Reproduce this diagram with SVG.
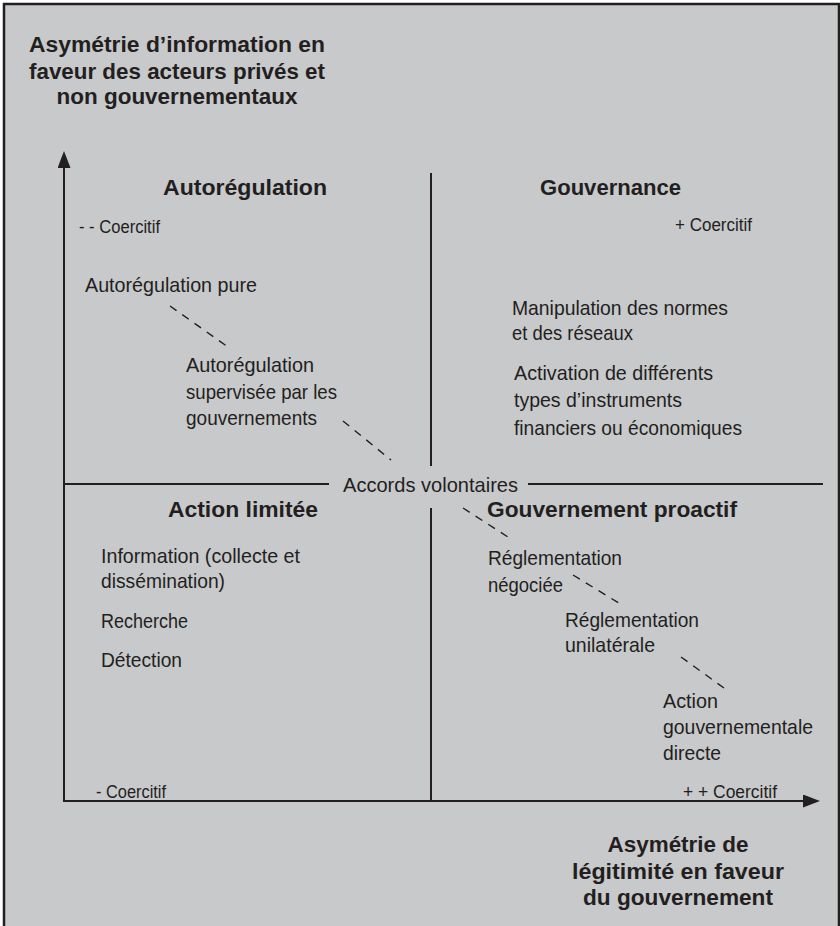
<svg xmlns="http://www.w3.org/2000/svg" width="840" height="926" viewBox="0 0 840 926">
<style>
text{font-family:"Liberation Sans",Arial,sans-serif;fill:#231f20}
.b{font-weight:bold;font-size:22px}
.n{font-size:21px}
.s{font-size:18px}
.ax{stroke:#231f20;stroke-width:2;fill:none}
.dv{stroke:#231f20;stroke-width:2;fill:none}
.ds{stroke:#231f20;stroke-width:1.4;stroke-dasharray:8 7;fill:none}
</style>
<defs>
<marker id="ah" viewBox="0 0 17 13" refX="7" refY="6.5" markerWidth="17" markerHeight="13" markerUnits="userSpaceOnUse" orient="auto">
<path d="M0,0 L17,6.5 L0,13 Z" fill="#231f20"/>
</marker>
</defs>
<rect x="0" y="0" width="840" height="926" fill="#ffffff"/>
<rect x="4" y="4" width="835" height="940" fill="#c8c9cb" stroke="#231f20" stroke-width="2.5"/>

<g id="connectors">
<line class="ax" x1="64" y1="802" x2="64" y2="161" marker-end="url(#ah)"/>
<line class="ax" x1="63" y1="801" x2="810" y2="801" marker-end="url(#ah)"/>
<line class="dv" x1="431" y1="173" x2="431" y2="466"/>
<line class="dv" x1="431" y1="508" x2="431" y2="801"/>
<line class="dv" x1="64" y1="484" x2="329" y2="484"/>
<line class="dv" x1="528" y1="484" x2="823" y2="484"/>
<line class="ds" x1="170" y1="306" x2="228" y2="347"/>
<line class="ds" x1="343" y1="421" x2="391" y2="460"/>
<line class="ds" x1="463" y1="508" x2="511" y2="539"/>
<line class="ds" x1="573" y1="575" x2="622" y2="605"/>
<line class="ds" x1="681" y1="657" x2="724" y2="688"/>
</g>

<g id="axis-y-title">
<text class="b" x="177" y="52" text-anchor="middle" textLength="296" lengthAdjust="spacingAndGlyphs">Asymétrie d’information en</text>
<text class="b" x="177" y="79" text-anchor="middle" textLength="296" lengthAdjust="spacingAndGlyphs">faveur des acteurs privés et</text>
<text class="b" x="177" y="104" text-anchor="middle" textLength="241" lengthAdjust="spacingAndGlyphs">non gouvernementaux</text>
</g>

<g id="axis-x-title">
<text class="b" x="678" y="852" text-anchor="middle" textLength="141" lengthAdjust="spacingAndGlyphs">Asymétrie de</text>
<text class="b" x="678" y="879" text-anchor="middle" textLength="212" lengthAdjust="spacingAndGlyphs">légitimité en faveur</text>
<text class="b" x="678" y="905" text-anchor="middle" textLength="190" lengthAdjust="spacingAndGlyphs">du gouvernement</text>
</g>

<g id="q-autoregulation">
<text class="b" x="163" y="195" textLength="164" lengthAdjust="spacingAndGlyphs">Autorégulation</text>
<text class="s" x="79" y="233" textLength="81" lengthAdjust="spacingAndGlyphs">- - Coercitif</text>
</g>
<g id="n-autoreg-pure">
<text class="n" x="85" y="292" textLength="172" lengthAdjust="spacingAndGlyphs">Autorégulation pure</text>
</g>
<g id="n-autoreg-supervisee">
<text class="n" x="186" y="372" textLength="128" lengthAdjust="spacingAndGlyphs">Autorégulation</text>
<text class="n" x="186" y="399" textLength="151" lengthAdjust="spacingAndGlyphs">supervisée par les</text>
<text class="n" x="186" y="425" textLength="131" lengthAdjust="spacingAndGlyphs">gouvernements</text>
</g>

<g id="q-gouvernance">
<text class="b" x="540" y="195" textLength="141" lengthAdjust="spacingAndGlyphs">Gouvernance</text>
<text class="s" x="675" y="231" textLength="77" lengthAdjust="spacingAndGlyphs">+ Coercitif</text>
</g>
<g id="n-manipulation">
<text class="n" x="512" y="315" textLength="216" lengthAdjust="spacingAndGlyphs">Manipulation des normes</text>
<text class="n" x="512" y="340" textLength="121" lengthAdjust="spacingAndGlyphs">et des réseaux</text>
</g>
<g id="n-activation">
<text class="n" x="514" y="380" textLength="199" lengthAdjust="spacingAndGlyphs">Activation de différents</text>
<text class="n" x="514" y="407" textLength="168" lengthAdjust="spacingAndGlyphs">types d’instruments</text>
<text class="n" x="514" y="435" textLength="228" lengthAdjust="spacingAndGlyphs">financiers ou économiques</text>
</g>

<g id="n-accords">
<text class="n" x="343" y="492" textLength="175" lengthAdjust="spacingAndGlyphs">Accords volontaires</text>
</g>

<g id="q-action-limitee">
<text class="b" x="168" y="517" textLength="150" lengthAdjust="spacingAndGlyphs">Action limitée</text>
<text class="s" x="96" y="798" textLength="70" lengthAdjust="spacingAndGlyphs">- Coercitif</text>
</g>
<g id="n-information">
<text class="n" x="101" y="563" textLength="199" lengthAdjust="spacingAndGlyphs">Information (collecte et</text>
<text class="n" x="101" y="588" textLength="124" lengthAdjust="spacingAndGlyphs">dissémination)</text>
</g>
<g id="n-recherche">
<text class="n" x="101" y="628" textLength="87" lengthAdjust="spacingAndGlyphs">Recherche</text>
</g>
<g id="n-detection">
<text class="n" x="101" y="667" textLength="81" lengthAdjust="spacingAndGlyphs">Détection</text>
</g>

<g id="q-gouvernement-proactif">
<text class="b" x="487" y="517" textLength="250" lengthAdjust="spacingAndGlyphs">Gouvernement proactif</text>
<text class="s" x="683" y="798" textLength="94" lengthAdjust="spacingAndGlyphs">+ + Coercitif</text>
</g>
<g id="n-reglementation-negociee">
<text class="n" x="488" y="565" textLength="134" lengthAdjust="spacingAndGlyphs">Réglementation</text>
<text class="n" x="488" y="592" textLength="75" lengthAdjust="spacingAndGlyphs">négociée</text>
</g>
<g id="n-reglementation-unilaterale">
<text class="n" x="565" y="627" textLength="134" lengthAdjust="spacingAndGlyphs">Réglementation</text>
<text class="n" x="565" y="652" textLength="90" lengthAdjust="spacingAndGlyphs">unilatérale</text>
</g>
<g id="n-action-directe">
<text class="n" x="663" y="708" textLength="55" lengthAdjust="spacingAndGlyphs">Action</text>
<text class="n" x="663" y="734" textLength="150" lengthAdjust="spacingAndGlyphs">gouvernementale</text>
<text class="n" x="663" y="760" textLength="58" lengthAdjust="spacingAndGlyphs">directe</text>
</g>
</svg>
